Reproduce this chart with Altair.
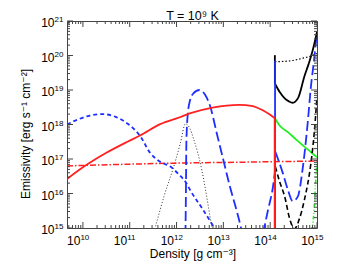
import altair as alt
import pandas as pd

# ---------------- data (log10 of density / emissivity) -------------
red_x = [9.66, 10.0, 10.24, 10.5, 10.95, 11.22, 11.65, 12.07, 12.28, 12.77, 13.34, 13.6, 13.83, 14.0, 14.1]
red_y = [16.42, 16.76, 16.97, 17.18, 17.5, 17.68, 18.01, 18.21, 18.32, 18.49, 18.57, 18.54, 18.42, 18.28, 18.18]
red_jump_x = [14.1, 14.1]
red_jump_y = [18.18, 14.8]

reddd_x = [9.66, 11.0, 12.0, 13.0, 14.0, 15.0]
reddd_y = [16.8, 16.85, 16.88, 16.9, 16.92, 16.94]

green_x = [14.1, 14.2, 14.38, 14.55, 14.73, 14.88, 15.0]
green_y = [18.18, 17.97, 17.78, 17.57, 17.36, 17.19, 17.05]
green_jump_x = [14.092, 14.092]
green_jump_y = [14.8, 18.18]

greendd_x = [14.9, 14.94, 14.97, 15.0]
greendd_y = [14.9, 15.6, 16.3, 16.9]

blue_s_x = [9.66, 9.9, 10.15, 10.42, 10.7, 10.95, 11.23, 11.44, 11.65, 11.87, 12.05, 12.19, 12.29, 12.57, 12.79, 12.85]
blue_s_y = [18.0, 18.15, 18.26, 18.3, 18.22, 18.03, 17.65, 17.17, 16.92, 16.78, 16.55, 16.34, 16.1, 15.52, 15.04, 14.9]

blue_l1_x = [12.19, 12.2, 12.21, 12.24, 12.29, 12.36, 12.49, 12.61, 12.72, 12.86, 13.0, 13.14, 13.28, 13.37, 13.4]
blue_l1_y = [14.8, 16.0, 17.5, 18.3, 18.71, 18.9, 19.0, 18.86, 18.52, 17.74, 16.97, 16.2, 15.52, 15.04, 14.85]
blue_l2_x = [13.85, 13.95, 14.06, 14.1]
blue_l2_y = [14.85, 15.5, 16.2, 16.6]
blue_jump_x = [14.104, 14.104]
blue_jump_y = [14.8, 19.85]
blue_l3_x = [14.11, 14.18, 14.27, 14.38, 14.48, 14.59, 14.69, 14.8, 14.87, 14.94, 15.0]
blue_l3_y = [17.21, 16.95, 16.59, 16.1, 15.78, 15.91, 16.68, 18.03, 19.1, 19.9, 20.7]

black_jump_x = [14.1, 14.1]
black_jump_y = [19.19, 20.01]
black_x = [14.1, 14.2, 14.31, 14.4, 14.48, 14.6, 14.73, 14.82, 14.91, 15.0]
black_y = [19.19, 18.95, 18.76, 18.67, 18.63, 18.78, 19.39, 19.75, 20.16, 20.68]

blackdot_x = [14.1, 14.3, 14.45, 14.6, 14.75, 14.84, 15.0]
blackdot_y = [19.82, 19.83, 19.85, 19.89, 19.94, 19.97, 20.06]

blackdash_x = [14.11, 14.2, 14.31, 14.42, 14.52, 14.62, 14.73, 14.87, 14.94, 15.0]
blackdash_y = [16.78, 16.35, 15.91, 15.25, 14.98, 15.25, 15.81, 16.88, 17.74, 18.8]

gray_x = [11.5, 11.55, 11.73, 11.94, 12.08, 12.19, 12.28, 12.36, 12.54, 12.68, 12.75, 12.78]
gray_y = [14.8, 15.04, 15.91, 16.78, 17.45, 18.02, 17.9, 17.6, 16.68, 15.62, 15.04, 14.8]

x_decades = [10, 11, 12, 13, 14, 15]
y_decades = [15, 16, 17, 18, 19, 20, 21]
minor_mult = [2, 3, 4, 5, 6, 7, 8, 9]
x_exp_labels = ["10", "11", "12", "13", "14", "15"]
y_exp_labels = ["15", "16", "17", "18", "19", "20", "21"]

# ---------------- layout -------------
W, H = 250, 207
XMIN, XMAX = 10 ** 9.66, 1e15
YMIN, YMAX = 1e15, 1e21
FONT = "Liberation Sans, DejaVu Sans, sans-serif"
FR = "#444444"

XS = alt.Scale(type="log", domain=[XMIN, XMAX], nice=False)
YS = alt.Scale(type="log", domain=[YMIN, YMAX], nice=False)

RED = "#ff2020"
BLUE = "#1f2fff"
GREEN = "#22ee22"
BLACK = "#000000"

series = [
    (green_jump_x, green_jump_y, GREEN, 1.6, None),
    (green_x, green_y, GREEN, 1.8, None),
    (greendd_x, greendd_y, GREEN, 1.6, [4, 2, 1, 2, 1, 2]),
    (gray_x, gray_y, "#333333", 1.0, [1, 2]),
    (reddd_x, reddd_y, RED, 1.5, [6, 2, 1.5, 2]),
    (blue_s_x, blue_s_y, BLUE, 1.8, [4, 3]),
    (blue_l1_x, blue_l1_y, BLUE, 1.8, [10, 4]),
    (blue_l2_x, blue_l2_y, BLUE, 1.8, [10, 4]),
    (blue_l3_x, blue_l3_y, BLUE, 1.8, [10, 4]),
    (blackdash_x, blackdash_y, BLACK, 1.6, [5, 3]),
    (blackdot_x, blackdot_y, BLACK, 1.2, [1.5, 2]),
    (black_jump_x, black_jump_y, BLACK, 1.8, None),
    (black_x, black_y, BLACK, 1.8, None),
    (blue_jump_x, blue_jump_y, BLUE, 1.8, None),
    (red_x, red_y, RED, 1.8, None),
    (red_jump_x, red_jump_y, RED, 1.8, None),
]

layers = []
for lx, ly, col, sw, dash in series:
    df = pd.DataFrame({"x": [10 ** v for v in lx], "y": [10 ** v for v in ly], "i": list(range(len(lx)))})
    kw = dict(color=col, strokeWidth=sw, interpolate="monotone", clip=True)
    if dash:
        kw["strokeDash"] = dash
    layers.append(
        alt.Chart(df).mark_line(**kw).encode(
            x=alt.X("x:Q", scale=XS, axis=None),
            y=alt.Y("y:Q", scale=YS, axis=None),
            order="i:Q",
        )
    )

# ---------------- tick marks (inside, all four sides) -------------
x_major = [10.0 ** d for d in x_decades]
x_minor = [m * 10.0 ** d for d in range(9, 15) for m in minor_mult if XMIN <= m * 10.0 ** d <= XMAX]
y_major = [10.0 ** d for d in y_decades]
y_minor = [m * 10.0 ** d for d in range(15, 21) for m in minor_mult]

for vals, ln in ((x_major, 6), (x_minor, 3)):
    d = pd.DataFrame({"v": vals})
    layers.append(alt.Chart(d).mark_rule(color=FR, strokeWidth=1).encode(
        x=alt.X("v:Q", scale=XS, axis=None), y=alt.value(H), y2=alt.value(H - ln)))
    layers.append(alt.Chart(d).mark_rule(color=FR, strokeWidth=1).encode(
        x=alt.X("v:Q", scale=XS, axis=None), y=alt.value(0), y2=alt.value(ln)))
for vals, ln in ((y_major, 6), (y_minor, 3)):
    d = pd.DataFrame({"v": vals})
    layers.append(alt.Chart(d).mark_rule(color=FR, strokeWidth=1).encode(
        y=alt.Y("v:Q", scale=YS, axis=None), x=alt.value(0), x2=alt.value(ln)))
    layers.append(alt.Chart(d).mark_rule(color=FR, strokeWidth=1).encode(
        y=alt.Y("v:Q", scale=YS, axis=None), x=alt.value(W), x2=alt.value(W - ln)))

# ---------------- tick labels 10^n -------------
xl = pd.DataFrame({"v": x_major, "base": ["10"] * len(x_major), "exp": x_exp_labels})
yl = pd.DataFrame({"v": y_major, "base": ["10"] * len(y_major), "exp": y_exp_labels})

layers.append(alt.Chart(xl).mark_text(font=FONT, fontSize=12, align="right", baseline="alphabetic", dx=-2.5, color="black").encode(
    x=alt.X("v:Q", scale=XS, axis=None), y=alt.value(H + 17), text="base:N"))
layers.append(alt.Chart(xl).mark_text(font=FONT, fontSize=8, align="left", baseline="alphabetic", dx=-2.5, color="black").encode(
    x=alt.X("v:Q", scale=XS, axis=None), y=alt.value(H + 12), text="exp:N"))
layers.append(alt.Chart(yl).mark_text(font=FONT, fontSize=12, align="right", baseline="alphabetic", dy=6, color="black").encode(
    y=alt.Y("v:Q", scale=YS, axis=None), x=alt.value(-12.5), text="base:N"))
layers.append(alt.Chart(yl).mark_text(font=FONT, fontSize=8, align="left", baseline="alphabetic", dy=1, color="black").encode(
    y=alt.Y("v:Q", scale=YS, axis=None), x=alt.value(-12.5), text="exp:N"))

# ---------------- titles -------------
one = pd.DataFrame({"t": ["T    =    10⁹ K"]})
layers.append(alt.Chart(one).mark_text(font=FONT, fontSize=12.5, align="center", baseline="alphabetic", color="black").encode(
    x=alt.value(W / 2 + 0.5), y=alt.value(-1.5), text="t:N"))
xt = pd.DataFrame({"t": ["Density [g cm⁻³]"]})
layers.append(alt.Chart(xt).mark_text(font=FONT, fontSize=12, align="center", baseline="alphabetic", color="black").encode(
    x=alt.value(W / 2 + 1), y=alt.value(H + 29.5), text="t:N"))
yt = pd.DataFrame({"t": ["Emissivity [erg s⁻¹ cm⁻²]"]})
layers.append(alt.Chart(yt).mark_text(font=FONT, fontSize=12, align="center", baseline="alphabetic", angle=270, color="black").encode(
    x=alt.value(-37.5), y=alt.value(113), text="t:N"))

chart = alt.layer(*layers).properties(
    width=W, height=H,
    padding={"left": 59, "top": 13, "right": 13, "bottom": 35},
    autosize=alt.AutoSizeParams(type="none"),
).configure_view(stroke=FR, strokeWidth=1)

chart.save("out.html", embed_options={"renderer": "svg", "actions": False})
